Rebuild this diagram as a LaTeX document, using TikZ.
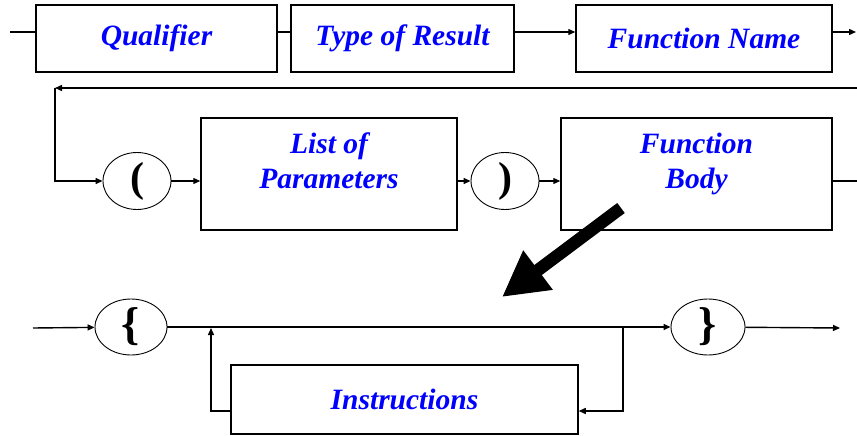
\documentclass[tikz,border=0pt]{standalone}
\usepackage{fontspec}
\setmainfont{Liberation Serif}
\usetikzlibrary{shapes.geometric, arrows.meta, positioning, calc}
\definecolor{SynBlue}{HTML}{0000FF}

\begin{document}
\begin{tikzpicture}[x=1pt, y=-1pt, >={Triangle[length=7pt,width=6pt]},
        box/.style={rectangle, draw=black, line width=1.5pt, fill=white, text=SynBlue, align=center, inner sep=0pt, font=\fontsize{29.5}{35}\selectfont\bfseries\itshape},
        term/.style={ellipse, draw=black, line width=0.9pt, inner sep=0pt, minimum width=68pt, minimum height=57pt, font=\fontsize{42}{42}\selectfont\bfseries},
        arrow/.style={->, line width=1.4pt},
        line/.style={-, line width=1.4pt}]
        \useasboundingbox (0,0) rectangle (857,436);

        \node[box, minimum width=241pt, minimum height=67pt] (qual) at (156.5,38.5) {Qualifier};
        \node[box, minimum width=223pt, minimum height=67pt] (type) at (402.5,38.5) {Type of Result};
        \node[box, minimum width=256pt, minimum height=67pt] (fname) at (704,38.5) {Function Name};

        \node[term] (lpar) at (137,181) {(};
        \node[box, minimum width=256pt, minimum height=112pt, text depth=26pt] (params) at (329,174) {List of\\Parameters};
        \node[term] (rpar) at (505,181) {)};
        \node[box, minimum width=271pt, minimum height=112pt, text depth=26pt] (body) at (696.5,174) {Function\\Body};

        \node[term, minimum width=72pt, minimum height=56pt, font=\fontsize{46}{46}\selectfont\bfseries] (lbrace) at (131,327) {\{};
        \node[box, minimum width=347pt, minimum height=69pt] (instr) at (404.5,399.5) {Instructions};
        \node[term, minimum width=74pt, minimum height=56pt, font=\fontsize{46}{46}\selectfont\bfseries] (rbrace) at (708,327) {\}};

        \coordinate (in1) at (10,32);
        \coordinate (out1) at (856,32);
        \coordinate (fbR) at (857,88);
        \coordinate (fbL) at (55,88);
        \coordinate (out2) at (857,181);
        \coordinate (in3) at (33,328);
        \coordinate (jL) at (211,328);
        \coordinate (jR) at (623,328);
        \coordinate (loopL) at (211,411);
        \coordinate (loopR) at (623,411);
        \coordinate (out3) at (840,328);
        \coordinate (bigtail) at (621,208);
        \coordinate (bigtip) at (502,297);

        \draw[line] (in1) -- (in1 -| qual.west);
        \draw[line] (qual.east |- in1) -- (type.west |- in1);
        \draw[arrow] (type.east |- in1) -- (fname.west |- in1);
        \draw[arrow] (fname.east |- in1) -- (out1);

        \draw[arrow] (fbR) -- (fbL);
        \draw[arrow] (fbL) |- (lpar.west);
        \draw[arrow] (lpar) -- (lpar -| params.west);
        \draw[arrow] (params.east |- rpar) -- (rpar);
        \draw[arrow] (rpar) -- (rpar -| body.west);
        \draw[line] (body.east |- rpar) -- (out2);

        \draw[-{Triangle[length=45pt,width=46pt]}, line width=12.5pt] (bigtail) -- (bigtip);

        \draw[arrow] (in3) -- (lbrace);
        \draw[arrow] (lbrace) -- (rbrace);
        \draw[arrow] (instr.west |- loopL) -- (loopL) -- (jL);
        \draw[arrow] (jR) -- (loopR) -- (instr.east |- loopR);
        \draw[arrow] (rbrace) -- (out3);
    \end{tikzpicture}
\end{document}
